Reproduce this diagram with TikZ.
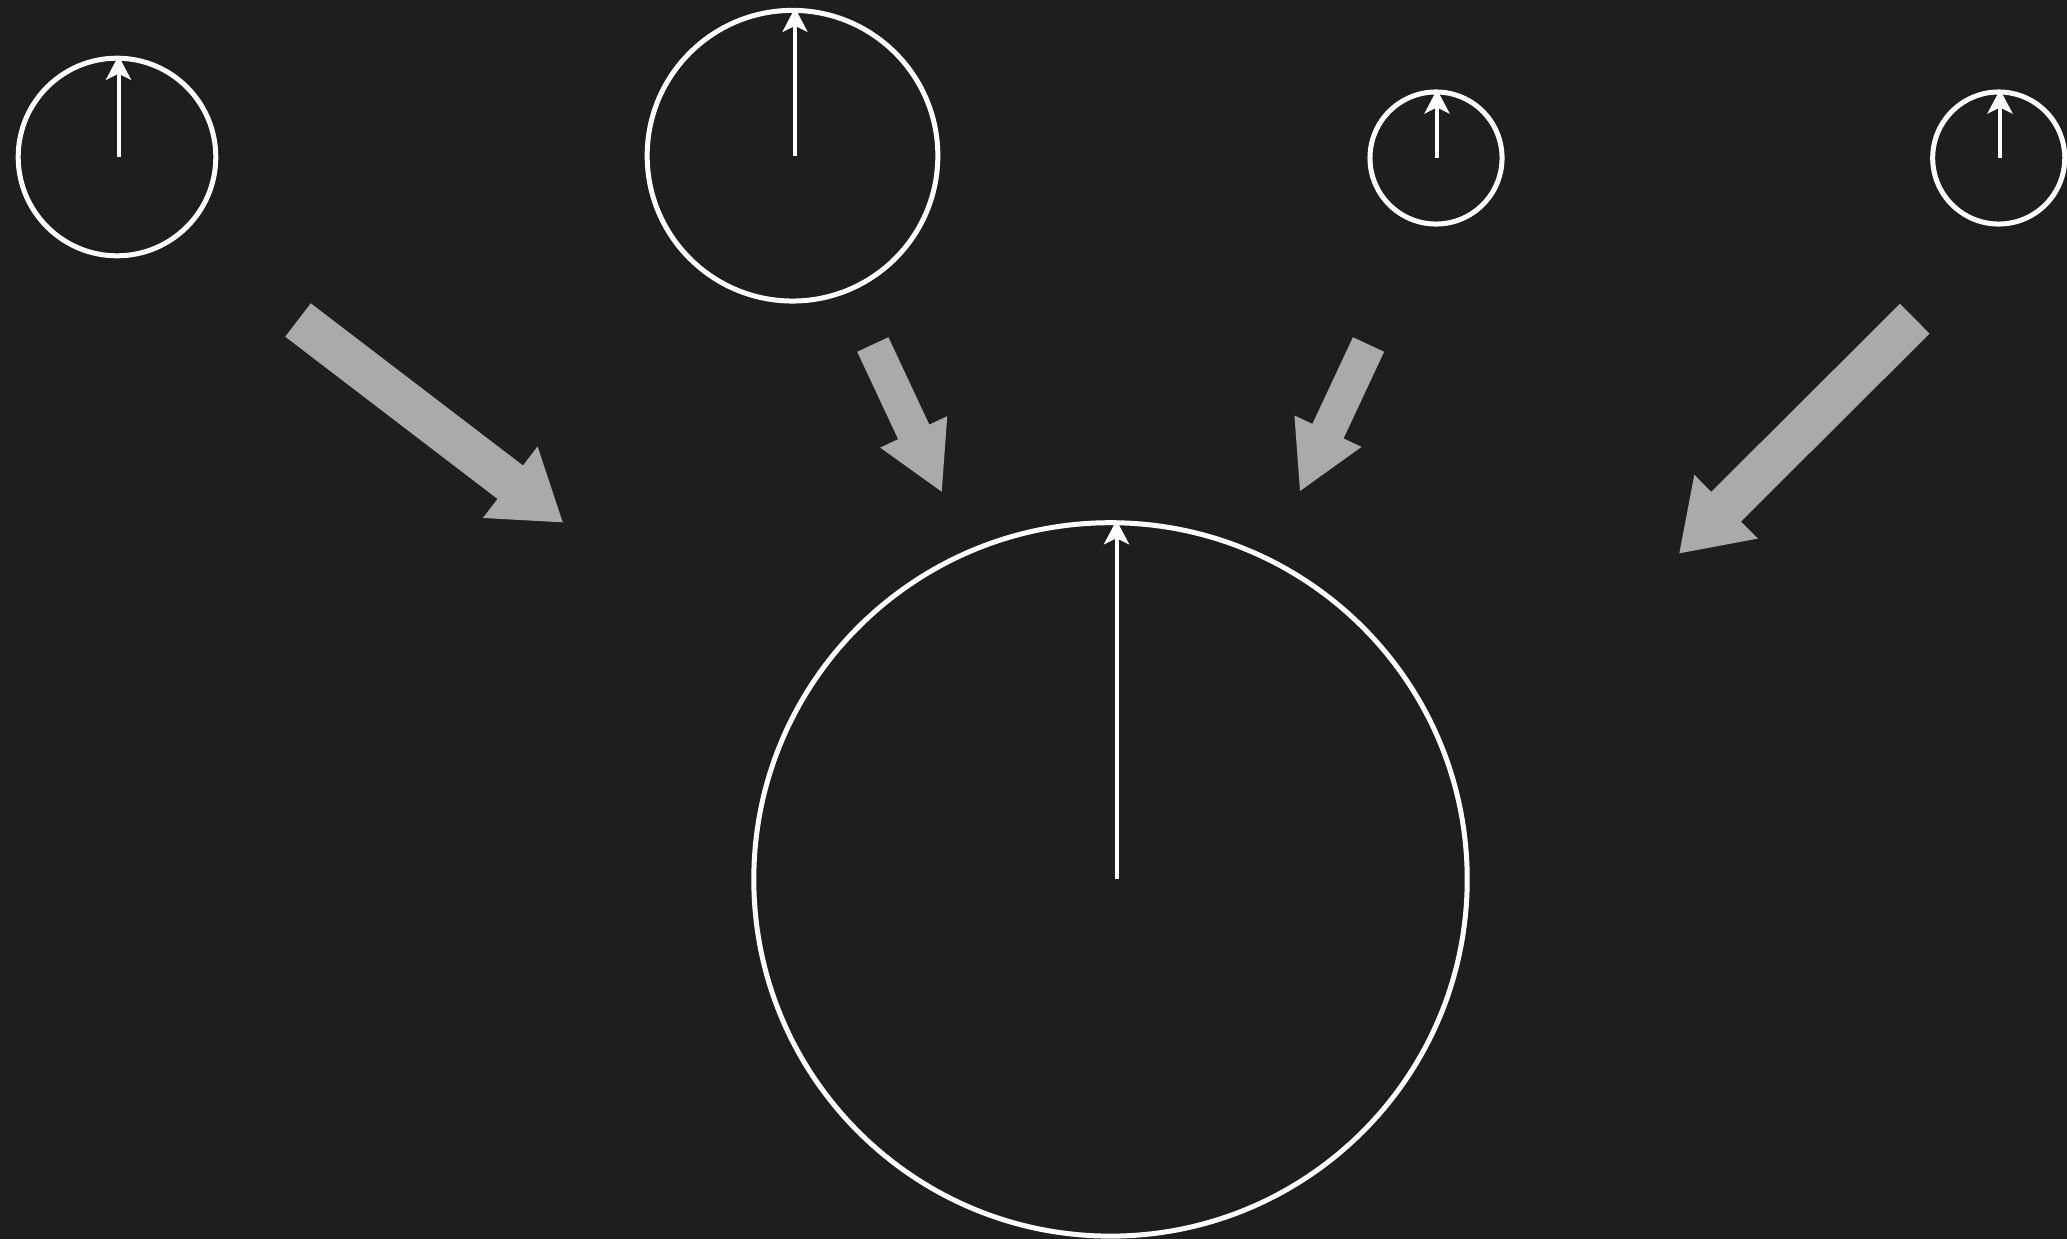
\documentclass[tikz,border=0pt]{standalone}
\usetikzlibrary{arrows.meta,calc}
\definecolor{bgdark}{HTML}{1E1E1E}
\definecolor{flowgray}{HTML}{AAAAAA}
% block arrow: tail, tip, half shaft, half head, head length
\newcommand\flowarrow[5]{%
  \coordinate (hb) at ($(#2)!#5!(#1)$);
  \fill[flowgray] ($(#1)!#3!90:(#2)$) -- ($(hb)!#3!90:(#2)$)
    -- ($(hb)!#4!90:(#2)$) -- (#2) -- ($(hb)!#4!-90:(#2)$)
    -- ($(hb)!#3!-90:(#2)$) -- ($(#1)!#3!-90:(#2)$) -- cycle;
}

\begin{document}
\begin{tikzpicture}[x=0.01cm, y=-0.01cm,
  dial/.style={circle, draw=white, line width=0.5mm, minimum size=#1,
    inner sep=0pt},
  needle/.style={draw=white, line width=0.4mm,
    -{Stealth[length=2.4mm, width=2.5mm, inset=0.6mm]}},
]
\path[use as bounding box, fill=bgdark] (0,0) rectangle (2067,1239);
% small dials (top row)
\node[dial=1.975cm] (d1) at (117,157) {};
\node[dial=2.905cm] (d2) at (792.5,155.7) {};
\node[dial=1.32cm] (d3) at (1436,158) {};
\node[dial=1.32cm] (d4) at (1998.7,158) {};
% combined dial
\node[dial=7.13cm] (big) at (1110.5,879.4) {};
% needles
\draw[needle] ([xshift=0.15mm]d1.center) -- ([xshift=0.15mm]d1.north);
\draw[needle] ([xshift=0.25mm]d2.center) -- ([xshift=0.25mm]d2.north);
\draw[needle] ([xshift=0.1mm]d3.center) -- ([xshift=0.1mm]d3.north);
\draw[needle] ([xshift=0.13mm]d4.center) -- ([xshift=0.13mm]d4.north);
\draw[needle] ([xshift=0.6mm]big.center) -- ([xshift=0.6mm]big.north);
% flow arrows into the big dial
\coordinate (f1s) at (298,320);     \coordinate (f1e) at (562.7,522.3);
\coordinate (f2s) at (872.8,344.5); \coordinate (f2e) at (941.7,491.7);
\coordinate (f3s) at (1368.5,344.5);\coordinate (f3e) at (1300,491);
\coordinate (f4s) at (1914.7,318.7);\coordinate (f4e) at (1679.3,553.3);
\flowarrow{f1s}{f1e}{2.1mm}{4.5mm}{6.6mm}
\flowarrow{f2s}{f2e}{1.72mm}{3.7mm}{6.6mm}
\flowarrow{f3s}{f3e}{1.72mm}{3.7mm}{6.6mm}
\flowarrow{f4s}{f4e}{2.1mm}{4.5mm}{6.6mm}
\end{tikzpicture}
\end{document}
